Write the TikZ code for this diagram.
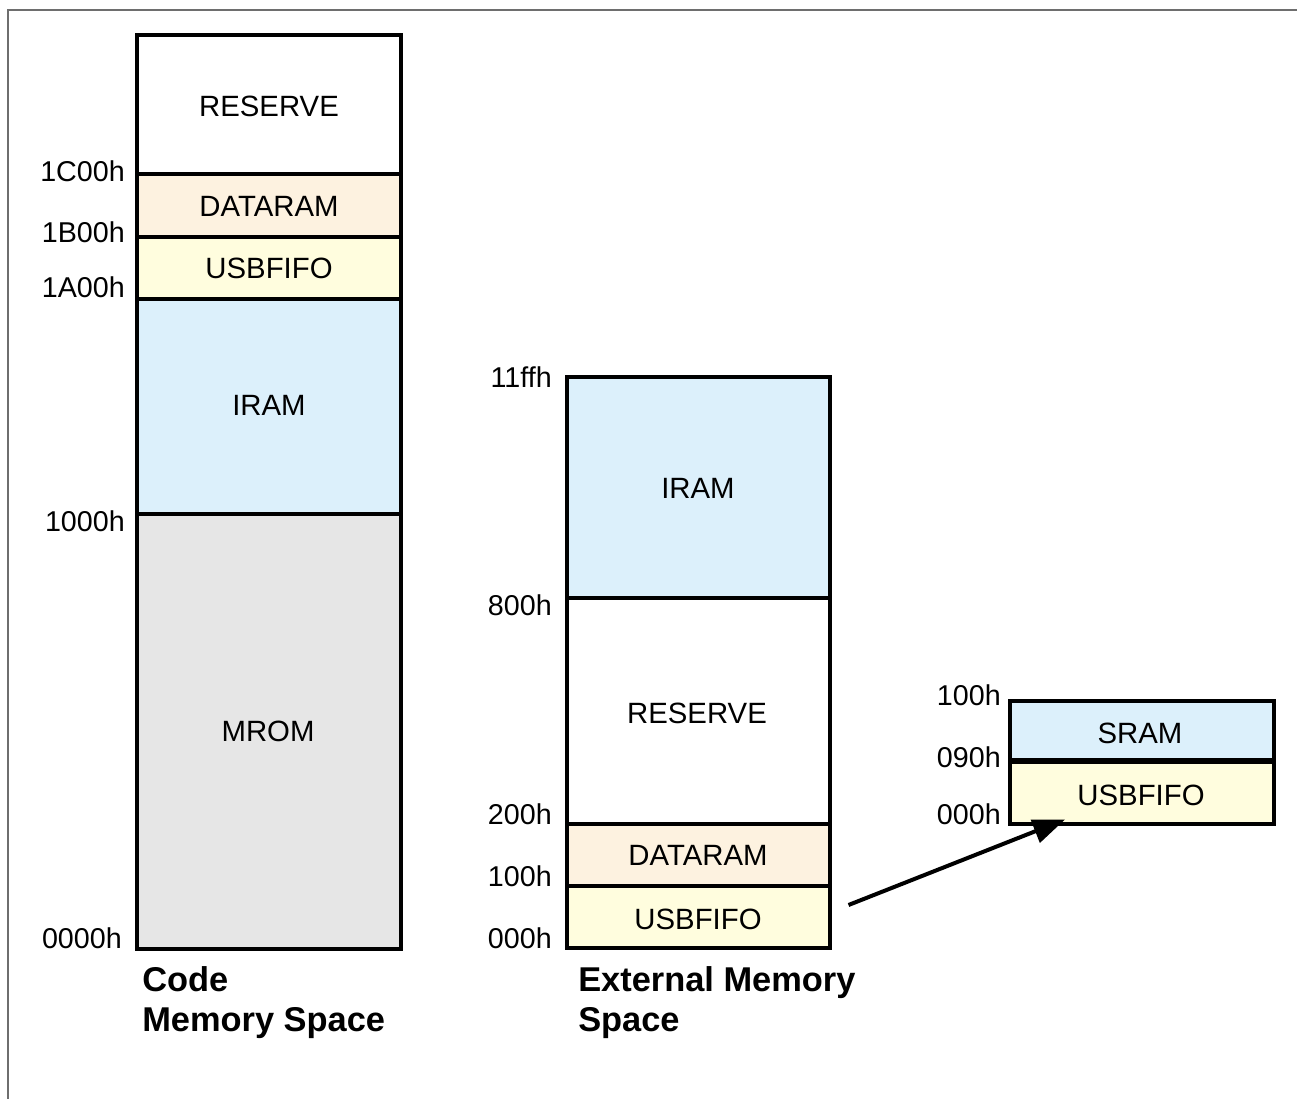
\documentclass[tikz,border=0pt]{standalone}
\usepackage{fontspec}
\setmainfont{Liberation Sans}
\usetikzlibrary{fit,arrows.meta}

\definecolor{peach}{RGB}{253,242,224}
\definecolor{paleyellow}{RGB}{255,253,222}
\definecolor{paleblue}{RGB}{220,240,251}
\definecolor{romgrey}{RGB}{230,230,230}
\definecolor{framegrey}{RGB}{110,110,110}

\tikzset{
  region/.style={draw=black, line width=2.3pt, inner sep=0pt},
  rlabel/.style={inner sep=0pt, font=\fontsize{22}{26}\selectfont},
  addr/.style={anchor=east, inner sep=0pt, font=\fontsize{21.5}{25}\selectfont},
  title/.style={anchor=north west, inner sep=0pt, align=left,
                font=\fontsize{25.8}{30.5}\selectfont\bfseries},
  link/.style={line width=3pt, -{Triangle[length=24pt,width=18pt]}}
}

\begin{document}
\begin{tikzpicture}[x=0.75pt, y=-0.75pt]
  \useasboundingbox (0,0) rectangle (1297,1099);

  % outer frame (top and left edges)
  \draw[framegrey, line width=0.8pt] (1297,10) -- (8,10) -- (8,1099);

  % ---- code memory space ----
  \node[region, fill=white, fit={(137,35) (401,174)}] (cres) {};
  \node[region, fill=peach, fit={(137,174) (401,237)}] (cdat) {};
  \node[region, fill=paleyellow, fit={(137,237) (401,299)}] (cusb) {};
  \node[region, fill=paleblue, fit={(137,299) (401,514)}] (ciram) {};
  \node[region, fill=romgrey, fit={(137,514) (401,949)}] (crom) {};

  \node[rlabel] (tcres) at (269,106) {RESERVE};
  \node[rlabel] (tcdat) at (269,206) {DATARAM};
  \node[rlabel] (tcusb) at (269,268) {USBFIFO};
  \node[rlabel] (tciram) at (269,405) {IRAM};
  \node[rlabel] (tcrom) at (268,731) {MROM};

  \node[addr] (a1c) at (125,171) {1C00h};
  \node[addr] (a1b) at (125,232) {1B00h};
  \node[addr] (a1a) at (125,287) {1A00h};
  \node[addr] (a10) at (125,521) {1000h};
  \node[addr] (a00) at (122,938) {0000h};

  \node[title] (ctitle) at (142,966) {Code\\Memory Space};

  % ---- external memory space ----
  \node[region, fill=paleblue, fit={(567,377) (830,598)}] (xiram) {};
  \node[region, fill=white, fit={(567,598) (830,824)}] (xres) {};
  \node[region, fill=peach, line width=2.8pt, fit={(567,824) (830,886)}] (xdat) {};
  \node[region, fill=paleyellow, fit={(567,886) (830,948)}] (xusb) {};

  \node[rlabel] (txiram) at (698,488) {IRAM};
  \node[rlabel] (txres) at (697,713) {RESERVE};
  \node[rlabel] (txdat) at (698,855) {DATARAM};
  \node[rlabel] (txusb) at (698,919) {USBFIFO};

  \node[addr] (x11f) at (552,377) {11ffh};
  \node[addr] (x800) at (552,605) {800h};
  \node[addr] (x200) at (552,814) {200h};
  \node[addr] (x100) at (552,876) {100h};
  \node[addr] (x000) at (552,938) {000h};

  \node[title] (xtitle) at (578,966) {External Memory\\Space};

  % ---- USB FIFO detail ----
  \node[region, fill=paleblue, fit={(1010,701) (1274,762)}] (fsram) {};
  \node[region, fill=paleyellow, fit={(1010,762) (1274,824)}] (fusb) {};
  \draw[line width=3.2pt] (fusb.north west) -- (fusb.north east);

  \node[rlabel] (tfsram) at (1140,733) {SRAM};
  \node[rlabel] (tfusb) at (1141,795) {USBFIFO};

  \node[addr] (f100) at (1001,695) {100h};
  \node[addr] (f090) at (1001,757) {090h};
  \node[addr] (f000) at (1001,814) {000h};

  % mapping arrow
  \coordinate (src) at ([xshift=12.75pt, yshift=9pt]xusb.east);
  \coordinate (dst) at ([xshift=-57.75pt, yshift=4.5pt]fusb.south);
  \draw[link] (src) -- (dst);
\end{tikzpicture}
\end{document}
